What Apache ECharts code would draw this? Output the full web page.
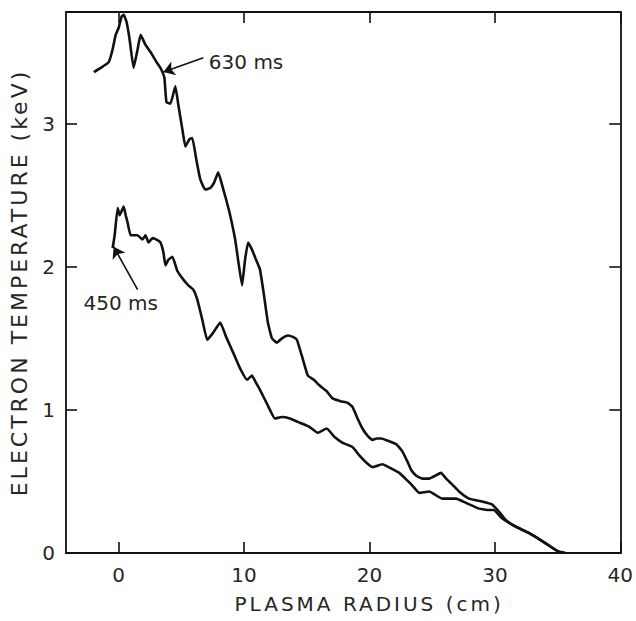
<!DOCTYPE html>
<html>
<head>
<meta charset="utf-8">
<script src="https://cdn.jsdelivr.net/npm/echarts@6/dist/echarts.min.js"></script>
<style>
  html, body { margin: 0; padding: 0; background: #fff; }
  #chart { width: 636px; height: 621px; }
  text[style*="sans-serif"] { letter-spacing: 3px; }
</style>
</head>
<body>
<div id="chart"></div>
<script>
// ---- data ----
const xTickValues = [0, 10, 20, 30, 40];
const yTickValues = [0, 1, 2, 3];

const radius630 = [-1.98, -1.43, -0.79, -0.48, -0.24, 0, 0.24, 0.40, 0.63, 0.87, 1.19, 1.51, 1.75, 2.14, 2.54, 3.02, 3.33, 3.49, 3.65, 3.81, 4.13, 4.52, 4.76, 5.08, 5.32, 5.63, 5.87, 6.19, 6.51, 6.90, 7.30, 7.62, 7.94, 8.25, 8.57, 8.89, 9.29, 9.52, 9.84, 10.08, 10.32, 10.63, 10.95, 11.27, 11.59, 11.90, 12.22, 12.62, 13.02, 13.49, 13.89, 14.21, 14.60, 15.08, 15.56, 16.03, 16.59, 17.06, 17.70, 18.25, 18.65, 19.05, 19.44, 19.84, 20.24, 20.56, 20.95, 21.59, 22.14, 22.62, 23.02, 23.33, 23.73, 24.21, 24.76, 25.24, 25.71, 26.11, 26.59, 27.14, 27.94, 28.97, 29.76, 30.32, 30.87, 31.75, 32.70, 33.65, 34.52, 35.08, 35.63];
const temp630 = [3.36, 3.39, 3.43, 3.52, 3.62, 3.67, 3.75, 3.76, 3.71, 3.59, 3.39, 3.52, 3.62, 3.55, 3.50, 3.43, 3.39, 3.36, 3.32, 3.15, 3.14, 3.26, 3.13, 2.96, 2.84, 2.89, 2.90, 2.75, 2.61, 2.54, 2.55, 2.59, 2.66, 2.57, 2.47, 2.36, 2.19, 2.05, 1.87, 2.05, 2.17, 2.12, 2.05, 1.98, 1.80, 1.61, 1.50, 1.47, 1.50, 1.52, 1.51, 1.49, 1.38, 1.24, 1.21, 1.17, 1.13, 1.08, 1.06, 1.05, 1.02, 0.94, 0.87, 0.82, 0.79, 0.80, 0.80, 0.78, 0.76, 0.71, 0.64, 0.58, 0.54, 0.52, 0.52, 0.54, 0.56, 0.52, 0.48, 0.43, 0.38, 0.36, 0.34, 0.29, 0.23, 0.18, 0.14, 0.09, 0.04, 0.01, 0.00];

const radius450 = [-0.48, -0.32, -0.08, 0.08, 0.24, 0.40, 0.56, 0.71, 0.95, 1.27, 1.51, 1.90, 2.14, 2.38, 2.70, 3.02, 3.33, 3.57, 3.73, 3.97, 4.29, 4.68, 5.16, 5.56, 5.95, 6.27, 6.67, 7.06, 7.54, 8.10, 8.57, 9.13, 9.68, 10.24, 10.63, 10.95, 11.27, 11.90, 12.46, 13.02, 13.65, 14.44, 15.24, 15.87, 16.59, 17.22, 17.86, 18.65, 19.21, 19.76, 20.24, 21.03, 21.75, 22.38, 22.86, 23.33, 23.97, 24.76, 25.79, 26.90, 27.70, 28.73, 29.52, 29.92, 30.48, 30.95, 31.75, 32.70, 33.65, 34.52, 35.08, 35.48];
const temp450 = [2.13, 2.22, 2.41, 2.36, 2.39, 2.42, 2.36, 2.31, 2.22, 2.22, 2.22, 2.19, 2.22, 2.17, 2.20, 2.19, 2.17, 2.10, 2.01, 2.05, 2.07, 1.97, 1.91, 1.87, 1.84, 1.77, 1.63, 1.49, 1.54, 1.61, 1.51, 1.40, 1.29, 1.21, 1.24, 1.19, 1.14, 1.03, 0.94, 0.95, 0.94, 0.91, 0.88, 0.84, 0.87, 0.81, 0.77, 0.74, 0.68, 0.63, 0.60, 0.62, 0.59, 0.56, 0.52, 0.48, 0.42, 0.43, 0.38, 0.38, 0.35, 0.31, 0.30, 0.30, 0.25, 0.22, 0.18, 0.14, 0.09, 0.04, 0.01, 0.00];

// annotations (data coordinates)
const label630 = ['630 ms', 10.16, 3.43];
const arrow630 = [[6.75, 3.46], [3.57, 3.36]];
const label450 = ['450 ms', 0.16, 1.75];
const arrow450 = [[1.51, 1.84], [-0.40, 2.14]];

const xName = 'PLASMA RADIUS (cm)';
const yName = 'ELECTRON TEMPERATURE (keV)';

// ---- chart ----
const ink = '#111';
const textInk = '#262626';
const font = 'DejaVu Sans';
const spacedFont = 'DejaVu Sans, sans-serif';

function zip(xs, ys) { return xs.map((x, i) => [x, ys[i]]); }

function annot(lbl, arr, curv) {
  return {
    markPoint: {
      silent: true,
      symbol: 'circle',
      symbolSize: 1,
      itemStyle: { color: 'rgba(0,0,0,0)' },
      label: { show: true, position: 'inside', formatter: '{b}', color: textInk, fontSize: 20, fontFamily: font },
      data: [{ name: lbl[0], coord: [lbl[1], lbl[2]] }]
    },
    markLine: {
      silent: true,
      symbol: ['none', 'arrow'],
      symbolSize: 11,
      label: { show: false },
      itemStyle: { color: ink },
      lineStyle: { color: ink, width: 1.6, type: 'solid', curveness: curv },
      data: [[{ coord: arr[0] }, { coord: arr[1] }]]
    }
  };
}

const axisLineStyle = { color: ink, width: 1.8 };
const tickStyle = { color: ink, width: 1.6 };

const chart = echarts.init(document.getElementById('chart'), null, { renderer: 'svg' });
chart.setOption({
  animation: false,
  backgroundColor: '#fff',
  grid: { left: 65, right: 15, top: 12, bottom: 68, containLabel: false },
  xAxis: [{
    type: 'value', position: 'bottom', min: -4.2, max: 40,
    axisLine: { show: true, onZero: false, lineStyle: axisLineStyle },
    axisTick: { show: true, inside: true, length: 11, customValues: xTickValues, lineStyle: tickStyle },
    axisLabel: { show: true, customValues: xTickValues, margin: 12, color: textInk, fontSize: 20, fontFamily: font },
    splitLine: { show: false },
    name: xName, nameLocation: 'middle', nameGap: 41,
    nameTextStyle: { color: textInk, fontSize: 20, fontFamily: spacedFont, padding: [0, 0, 0, 52] }
  }, {
    type: 'value', position: 'top', min: -4.2, max: 40,
    axisLine: { show: true, onZero: false, lineStyle: axisLineStyle },
    axisTick: { show: true, inside: true, length: 11, customValues: xTickValues, lineStyle: tickStyle },
    axisLabel: { show: false },
    splitLine: { show: false }
  }],
  yAxis: [{
    type: 'value', position: 'left', min: 0, max: 3.78,
    axisLine: { show: true, onZero: false, lineStyle: axisLineStyle },
    axisTick: { show: true, inside: true, length: 11, customValues: yTickValues, lineStyle: tickStyle },
    axisLabel: { show: true, customValues: yTickValues, margin: 11, color: textInk, fontSize: 20, fontFamily: font },
    splitLine: { show: false },
    name: yName, nameLocation: 'middle', nameGap: 36,
    nameTextStyle: { color: textInk, fontSize: 22, fontFamily: spacedFont }
  }, {
    type: 'value', position: 'right', min: 0, max: 3.78,
    axisLine: { show: true, onZero: false, lineStyle: axisLineStyle },
    axisTick: { show: true, inside: true, length: 11, customValues: yTickValues, lineStyle: tickStyle },
    axisLabel: { show: false },
    splitLine: { show: false }
  }],
  series: [
    Object.assign({
      name: '630 ms', type: 'line', xAxisIndex: 0, yAxisIndex: 0,
      data: zip(radius630, temp630),
      showSymbol: false, smooth: 0.12,
      lineStyle: { color: ink, width: 2.6 },
      itemStyle: { color: ink }
    }, annot(label630, arrow630, 0.25)),
    Object.assign({
      name: '450 ms', type: 'line', xAxisIndex: 0, yAxisIndex: 0,
      data: zip(radius450, temp450),
      showSymbol: false, smooth: 0.12,
      lineStyle: { color: ink, width: 2.6 },
      itemStyle: { color: ink }
    }, annot(label450, arrow450, -0.25))
  ]
});
</script>
</body>
</html>
